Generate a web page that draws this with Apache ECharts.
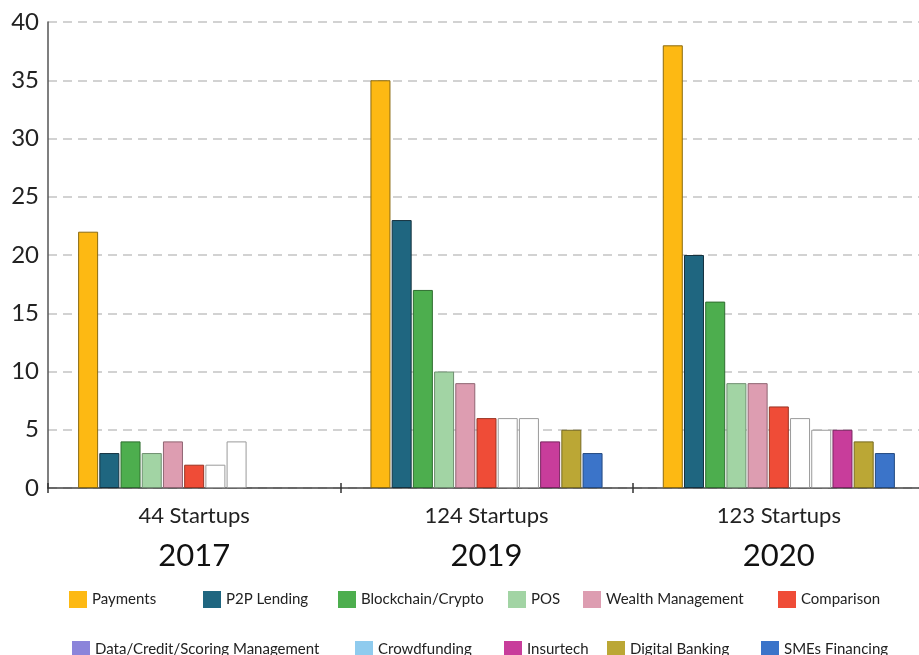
<!DOCTYPE html>
<html>
<head>
<meta charset="utf-8">
<script src="https://cdn.jsdelivr.net/npm/echarts@6/dist/echarts.min.js"></script>
<style>
  html, body { margin: 0; padding: 0; background: #fff; }
  #chart { width: 919px; height: 655px; }
</style>
</head>
<body>
<div id="chart"></div>
<script>
// Fintech startups by segment, per survey year
const years = ['2017', '2019', '2020'];
const startupCounts = ['44 Startups', '124 Startups', '123 Startups'];
const yTicks = [0, 5, 10, 15, 20, 25, 30, 35, 40];

const segments = [
  'Payments', 'P2P Lending', 'Blockchain/Crypto', 'POS', 'Wealth Management', 'Comparison',
  'Data/Credit/Scoring Management', 'Crowdfunding', 'Insurtech', 'Digital Banking', 'SMEs Financing'
];

const payments        = [22, 35, 38];
const p2pLending      = [3, 23, 20];
const blockchain      = [4, 17, 16];
const pos             = [3, 10, 9];
const wealthMgmt      = [4, 9, 9];
const comparison      = [2, 6, 7];
const dataCredit      = [2, 6, 6];
const crowdfunding    = [4, 6, 5];
const insurtech       = [null, 4, 5];
const digitalBanking  = [null, 5, 4];
const smesFinancing   = [null, 3, 3];

const seriesValues = [payments, p2pLending, blockchain, pos, wealthMgmt, comparison,
  dataCredit, crowdfunding, insurtech, digitalBanking, smesFinancing];

// bar fill, bar outline, legend swatch
const barFill = ['#FDB913', '#1F6680', '#4DAE4E', '#A2D4A4', '#DD9DB1', '#EF4C37',
  '#FFFFFF', '#FFFFFF', '#C83D9B', '#BBA735', '#3B74C9'];
const barEdge = ['#8a6a10', '#15323f', '#2f6e30', '#6f8f70', '#8f6572', '#9a3424',
  '#9a9a9a', '#9a9a9a', '#7a2560', '#776a20', '#244a80'];
const swatch = ['#FDB913', '#1F6680', '#4DAE4E', '#A2D4A4', '#DD9DB1', '#EF4C37',
  '#8B84DA', '#8FCBEE', '#C83D9B', '#BBA735', '#3B74C9'];

// legend placement: [left, top] of each swatch
const legendSpots = [
  [69, 591], [203, 591], [338, 591], [508, 591], [583, 591], [778, 591],
  [72, 641], [355, 641], [504, 641], [607, 641], [761, 641]
];

const font = "Lato, 'Liberation Sans', Arial, sans-serif";

const series = segments.map((name, i) => ({
  name: name,
  type: 'bar',
  data: seriesValues[i],
  barGap: '6%',
  barCategoryGap: '20.6%',
  itemStyle: { color: barFill[i], borderColor: barEdge[i], borderWidth: 1 },
  emphasis: { disabled: true }
}));

const legends = segments.map((name, i) => ({
  left: legendSpots[i][0], top: legendSpots[i][1],
  itemWidth: 18, itemHeight: 17, icon: 'rect',
  selectedMode: false, padding: 0,
  textStyle: { fontFamily: font, fontSize: 15, color: '#222' },
  data: [{ name: name, itemStyle: { color: swatch[i], borderWidth: 0 } }]
}));

const chart = echarts.init(document.getElementById('chart'), null, { renderer: 'canvas' });
chart.setOption({
  animation: false,
  backgroundColor: '#fff',
  // the last category runs a little past the right edge of the canvas
  grid: { left: 48, width: 877, top: 22, bottom: 167, containLabel: false, outerBoundsMode: 'none' },
  legend: legends,
  xAxis: [{
    type: 'category',
    data: years,
    axisLine: { lineStyle: { color: '#444', width: 1.5 } },
    axisTick: { show: true, length: 5, lineStyle: { color: '#333', width: 1.5 } },
    axisLabel: {
      margin: 13,
      formatter: (v, idx) => '{a|' + startupCounts[idx] + '}\n{b|' + v + '}',
      rich: {
        a: { fontFamily: font, fontSize: 22, color: '#222', lineHeight: 30 },
        b: { fontFamily: font, fontSize: 31, color: '#111', lineHeight: 50 }
      }
    }
  }, {
    // inner half of the boundary ticks, so they cross the baseline
    type: 'category',
    data: years,
    position: 'bottom',
    axisLine: { show: false },
    axisLabel: { show: false },
    axisTick: { show: true, inside: true, length: 5, lineStyle: { color: '#333', width: 1.5 } }
  }],
  yAxis: {
    type: 'value',
    min: yTicks[0],
    max: yTicks[yTicks.length - 1],
    interval: yTicks[1] - yTicks[0],
    axisLine: { show: true, lineStyle: { color: '#555', width: 1.5 } },
    axisTick: { show: false },
    axisLabel: { fontFamily: font, fontSize: 24, color: '#222', margin: 9 },
    splitLine: { lineStyle: { color: '#c4c4c4', width: 1.5, type: [9, 6] } }
  },
  series: series
});
</script>
</body>
</html>
